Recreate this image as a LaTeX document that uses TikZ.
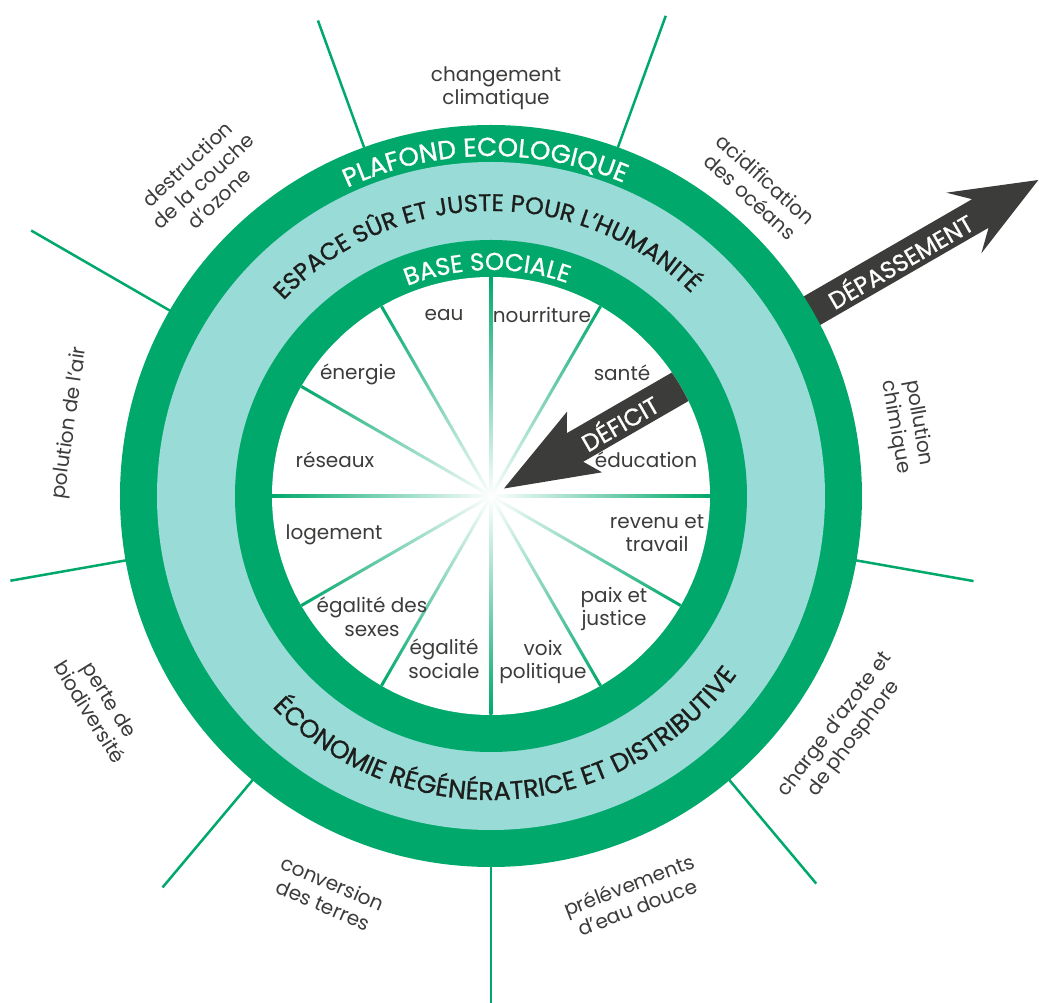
\documentclass[tikz,border=0pt]{standalone}
\usepackage{fontspec}
\setmainfont{Poppins}
\newfontfamily\semifont{Poppins}[FakeBold=0.9]
\usetikzlibrary{decorations.text}
\definecolor{grn}{HTML}{00A86B}
\definecolor{tealc}{HTML}{98DBD7}
\definecolor{ink}{HTML}{3C3C3B}
\definecolor{arrowc}{HTML}{3C3C3B}
\definecolor{ringink}{HTML}{1D1D1B}
\newcommand{\ringP}{\semifont\fontsize{26}{26}\selectfont}
\newcommand{\ringS}{\semifont\fontsize{24.5}{24.5}\selectfont}
\newcommand{\ringE}{\semifont\fontsize{24}{24}\selectfont}
\newcommand{\ringR}{\semifont\fontsize{25.5}{25.5}\selectfont}
\tikzset{
  lbl/.style={text=ink, font=\fontsize{20}{23.5}\selectfont, align=center, inner sep=0pt},
  outline/.style={draw=grn, line width=2.5pt},
  arrowtxt/.style={text=white, font=\semifont\fontsize{24}{24}\selectfont, inner sep=0pt, rotate=30},
}
\begin{document}
\begin{tikzpicture}[x=1pt,y=1pt]
\useasboundingbox (-491,-507) rectangle (548,496);
\fill[white] (-491,-507) rectangle (548,496);
% outer boundary lines
\foreach \a/\l [count=\i] in {110/506,70/511,150/531,-170/488,-130/511,-90/512,-50/506,-10/490}{
  \coordinate (o\i a) at (\a:360);
  \coordinate (o\i b) at (\a:\l);
  \draw[outline] (o\i a) -- (o\i b);
}
% overshoot arrow
\fill[arrowc, rotate=30] (300,16.5) -- (565,16.5) -- (546,35) -- (632,0) -- (546,-35) -- (565,-16.5) -- (300,-16.5) -- cycle;
% rings
\fill[grn] (0,0) circle (371);
\fill[tealc] (0,0) circle (334);
\fill[grn] (0,0) circle (256);
\fill[white] (0,0) circle (219);
% inner spokes
\foreach \a in {0,60,90,120,150,180,210,240,270,300,330}{
  \begin{scope}[transform canvas={rotate=\a}]
    \shade[left color=white, right color=grn] (0,-1.5) rectangle (219,1.5);
  \end{scope}
}
% shortfall arrow
\begin{scope}
  \clip (0,0) circle (219);
  \fill[arrowc, rotate=30] (15,0) -- (108,35) -- (97,16.5) -- (240,16.5) -- (240,-16.5) -- (97,-16.5) -- (108,-35) -- cycle;
\end{scope}
\node[arrowtxt] (dep) at (30:472) {DÉPASSEMENT};
\node[arrowtxt] (def) at (30:148) {DÉFICIT};
% ring texts
\path[decorate, decoration={text along path, text align=center, text color=white, text={|\ringP|PLAFOND ECOLOGIQUE}}]
  (181:340) arc[start angle=181, end angle=1, radius=340];
\path[decorate, decoration={text along path, text align=center, text color=ringink, text={|\ringE|ESPACE SÛR ET JUSTE POUR L’HUMANITÉ}}]
  (181:285) arc[start angle=181, end angle=1, radius=285];
\path[decorate, decoration={text along path, text align=center, text color=white, text={|\ringS|BASE SOCIALE}}]
  (181:226) arc[start angle=181, end angle=1, radius=226];
\path[decorate, decoration={text along path, text align=center, text color=ringink, text={|\ringR|ÉCONOMIE RÉGÉNÉRATRICE ET DISTRIBUTIVE}}]
  (-176:304) arc[start angle=-176, end angle=4, radius=304];
% social foundation labels
\node[lbl] (eau) at (-47,181) {eau};
\node[lbl] (nour) at (51,181) {nourriture};
\node[lbl] (ener) at (-133,122) {énergie};
\node[lbl] (sante) at (131,123) {santé};
\node[lbl] (res) at (-156,36) {réseaux};
\node[lbl] (edu) at (155,36) {éducation};
\node[lbl] (log) at (-157,-39) {logement};
\node[lbl] (rev) at (166,-37) {revenu et\\travail};
\node[lbl] (egs) at (-119,-121) {égalité des\\sexes};
\node[lbl] (paix) at (123,-113) {paix et\\justice};
\node[lbl] (egso) at (-47,-163) {égalité\\sociale};
\node[lbl] (voix) at (52,-166) {voix\\politique};
% ecological ceiling labels
\node[lbl] (clim) at (5,408) {changement\\climatique};
\node[lbl, rotate=-42] (acid) at (267,308) {acidification\\des océans};
\node[lbl, rotate=-80] (chim) at (416,71) {pollution\\chimique};
\node[lbl, rotate=53] (azote) at (354,-236) {charge d’azote et\\de phosphore};
\node[lbl, rotate=21] (prel) at (142,-400) {prélévements\\d’eau douce};
\node[lbl, rotate=-23] (conv) at (-163,-398) {conversion\\des terres};
\node[lbl, rotate=-58] (bio) at (-391,-210) {perte de\\biodiversité};
\node[lbl, rotate=82] (air) at (-421,73) {polution de l’air};
\node[lbl, rotate=43] (ozone) at (-288,315) {destruction\\de la couche\\d’ozone};
\end{tikzpicture}
\end{document}
